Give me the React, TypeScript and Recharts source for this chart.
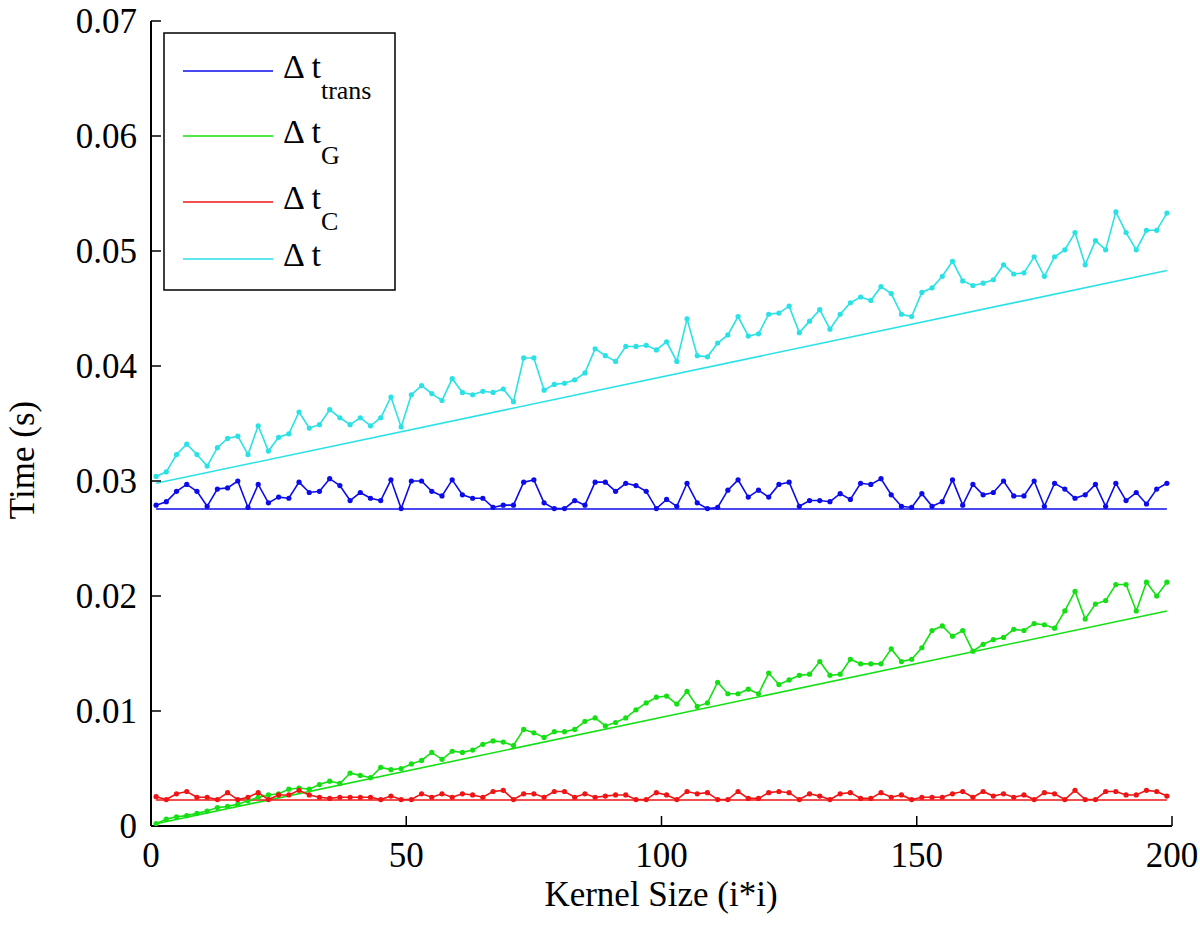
import { Legend, Line, LineChart, XAxis, YAxis } from "recharts";

// Kernel sizes sampled every 2 (1, 3, ..., 199) — 100 runs per series.
const KERNEL_SIZES = Array.from({ length: 100 }, (_, i) => 2 * i + 1);

const X_TICKS = [0, 50, 100, 150, 200];
const Y_TICKS = [0, 0.01, 0.02, 0.03, 0.04, 0.05, 0.06, 0.07];

const T_TRANS = [
  0.0279, 0.0282, 0.0291, 0.0297, 0.0291, 0.0278, 0.0293, 0.0294, 0.03, 0.0277,
  0.0297, 0.0281, 0.0286, 0.0285, 0.0299, 0.029, 0.0291, 0.0302, 0.0296, 0.0283,
  0.029, 0.0285, 0.0283, 0.0301, 0.0276, 0.03, 0.03, 0.0291, 0.0287, 0.0301,
  0.0288, 0.0285, 0.0285, 0.0277, 0.0279, 0.0279, 0.0299, 0.0301, 0.0281, 0.0276,
  0.0276, 0.0283, 0.0279, 0.0299, 0.0299, 0.0291, 0.0298, 0.0296, 0.0291, 0.0276,
  0.0284, 0.0278, 0.0298, 0.0281, 0.0276, 0.0277, 0.0292, 0.0301, 0.0286, 0.0292,
  0.0286, 0.0297, 0.0299, 0.0278, 0.0283, 0.0283, 0.0282, 0.0289, 0.0284, 0.0298,
  0.0297, 0.0302, 0.0288, 0.0278, 0.0277, 0.0289, 0.0278, 0.0282, 0.0301, 0.0279,
  0.0297, 0.0288, 0.029, 0.03, 0.0287, 0.0287, 0.03, 0.0278, 0.0298, 0.0293,
  0.0285, 0.0288, 0.0297, 0.0278, 0.0298, 0.0283, 0.029, 0.028, 0.0293, 0.0298,
];

const T_G = [
  0.0002, 0.0006, 0.0008, 0.0009, 0.0011, 0.0013, 0.0016, 0.0017, 0.0019, 0.0022,
  0.0025, 0.0027, 0.0028, 0.0032, 0.0033, 0.0032, 0.0036, 0.0039, 0.0037, 0.0046,
  0.0044, 0.0042, 0.0051, 0.0049, 0.005, 0.0054, 0.0057, 0.0064, 0.0058, 0.0065,
  0.0064, 0.0066, 0.0071, 0.0074, 0.0073, 0.007, 0.0084, 0.0081, 0.0077, 0.0082,
  0.0082, 0.0084, 0.0091, 0.0094, 0.0087, 0.009, 0.0094, 0.0101, 0.0107, 0.0112,
  0.0113, 0.0106, 0.0117, 0.0104, 0.0107, 0.0125, 0.0115, 0.0115, 0.0119, 0.0115,
  0.0133, 0.0123, 0.0127, 0.0131, 0.0132, 0.0143, 0.0131, 0.0132, 0.0145, 0.0141,
  0.0141, 0.0141, 0.0154, 0.0143, 0.0145, 0.0155, 0.017, 0.0174, 0.0165, 0.017,
  0.0152, 0.0158, 0.0162, 0.0164, 0.0171, 0.017, 0.0176, 0.0175, 0.0172, 0.0187,
  0.0204, 0.018, 0.0193, 0.0196, 0.021, 0.021, 0.0187, 0.0212, 0.02, 0.0212,
];

const T_C = [
  0.00255, 0.0023, 0.0028, 0.003, 0.0025, 0.0025, 0.0023, 0.0029, 0.0023, 0.0025,
  0.0029, 0.0023, 0.0027, 0.0027, 0.0031, 0.0027, 0.0025, 0.0024, 0.0025, 0.0025,
  0.0025, 0.0025, 0.0023, 0.0026, 0.0023, 0.0023, 0.0028, 0.0025, 0.0028, 0.0025,
  0.0028, 0.0027, 0.0025, 0.003, 0.0031, 0.0023, 0.0028, 0.0028, 0.0025, 0.003,
  0.003, 0.0025, 0.0028, 0.0025, 0.0026, 0.0027, 0.0027, 0.0023, 0.0023, 0.0029,
  0.0027, 0.0023, 0.003, 0.0028, 0.0029, 0.0023, 0.0023, 0.003, 0.0024, 0.0024,
  0.0029, 0.003, 0.0029, 0.0023, 0.0028, 0.0026, 0.0023, 0.0028, 0.0029, 0.0024,
  0.0024, 0.0029, 0.0025, 0.0027, 0.0023, 0.0025, 0.0025, 0.0025, 0.0028, 0.003,
  0.0025, 0.003, 0.0026, 0.0028, 0.0025, 0.0027, 0.0023, 0.0029, 0.0028, 0.0023,
  0.0031, 0.0023, 0.0023, 0.003, 0.003, 0.0027, 0.0027, 0.0031, 0.003, 0.0026,
];

const T_TOTAL = [
  0.0304, 0.0308, 0.0323, 0.0332, 0.0323, 0.0313, 0.0329, 0.0337, 0.0339, 0.0323,
  0.0348, 0.0326, 0.0338, 0.0341, 0.036, 0.0346, 0.0349, 0.0362, 0.0355, 0.0349,
  0.0355, 0.0348, 0.0355, 0.0373, 0.0347, 0.0375, 0.0383, 0.0376, 0.037, 0.0389,
  0.0377, 0.0375, 0.0378, 0.0377, 0.038, 0.0369, 0.0407, 0.0407, 0.0379, 0.0384,
  0.0385, 0.0388, 0.0394, 0.0415, 0.0409, 0.0404, 0.0417, 0.0417, 0.0418, 0.0414,
  0.0421, 0.0404, 0.0441, 0.0409, 0.0408, 0.042, 0.0427, 0.0443, 0.0426, 0.0428,
  0.0445, 0.0446, 0.0452, 0.0429, 0.0439, 0.0449, 0.0432, 0.0445, 0.0455, 0.046,
  0.0457, 0.0469, 0.0463, 0.0445, 0.0443, 0.0464, 0.0468, 0.0478, 0.0491, 0.0474,
  0.047, 0.0472, 0.0475, 0.0488, 0.048, 0.0481, 0.0495, 0.0478, 0.0495, 0.0501,
  0.0516, 0.0488, 0.0509, 0.0501, 0.0534, 0.0516, 0.0501, 0.0518, 0.0518, 0.0533,
];

// Straight model lines: value at the first and the last kernel size.
const FIT_X = [1, 199];
const FIT_TRANS = [0.02757, 0.02757];
const FIT_G = [0.0002, 0.0187];
const FIT_C = [0.00226, 0.00226];
const FIT_TOTAL = [0.0298, 0.0483];

const SERIES = [
  { key: "trans", sub: "trans", color: "#0c0ceb", values: T_TRANS, fit: FIT_TRANS },
  { key: "g", sub: "G", color: "#14e014", values: T_G, fit: FIT_G },
  { key: "c", sub: "C", color: "#f01414", values: T_C, fit: FIT_C },
  { key: "total", sub: "", color: "#2ae2e6", values: T_TOTAL, fit: FIT_TOTAL },
];

const pontos = (xs: number[], ys: number[]) => ys.map((y, i) => ({ x: xs[i], y }));

// Times-like face, as in the original MATLAB export.
const FONTE = "Liberation Serif, Times New Roman, Times, serif";
const TAM = 35;
const TICK = { fill: "#000", fontSize: TAM, fontFamily: FONTE, style: { fontFamily: FONTE } };
const EIXO = { stroke: "#000", strokeWidth: 2 };
const TRACO = { stroke: "#000", strokeWidth: 1.5 };

// Rows of the boxed legend (svg coordinates inside the box).
const LINHAS_Y = [39, 104, 170, 227];

function CaixaLegenda() {
  return (
    <svg width={233} height={259} style={{ display: "block", fontFamily: FONTE }}>
      <rect x={1} y={1} width={231} height={257} fill="#fff" stroke="#000" strokeWidth={1.5} />
      {SERIES.map((s, i) => {
        const y = LINHAS_Y[i];
        return (
          <g key={s.key}>
            <line x1={20} x2={110} y1={y} y2={y} stroke={s.color} strokeWidth={1.5} />
            <text x={120} y={y + 7} fontSize={34} style={{ fontFamily: FONTE }} fill="#000">
              {"\u0394 t"}
              {s.sub ? (
                <tspan dy={21} fontSize={26}>
                  {s.sub}
                </tspan>
              ) : null}
            </text>
          </g>
        );
      })}
    </svg>
  );
}

const fmtY = (v: number) => (v === 0 ? "0" : v.toFixed(2));

export default function App() {
  return (
    <div
      style={{
        position: "absolute",
        left: 0,
        top: 0,
        width: 1200,
        height: 935,
        background: "#fff",
        fontFamily: FONTE,
      }}
    >
      <LineChart
        width={1200}
        height={935}
        margin={{ top: 21, right: 28, bottom: 0, left: 0 }}
        style={{ fontFamily: FONTE }}
      >
        <XAxis
          dataKey="x"
          type="number"
          domain={[0, 200]}
          ticks={X_TICKS}
          height={109}
          axisLine={EIXO}
          tickLine={TRACO}
          tickSize={-10}
          tickMargin={26}
          tick={TICK}
          interval={0}
          allowDataOverflow
          label={{
            content: () => (
              <text
                x={661}
                y={906}
                textAnchor="middle"
                fontSize={TAM}
                style={{ fontFamily: FONTE }}
                fill="#000"
              >
                Kernel Size (i*i)
              </text>
            ),
          }}
        />
        <XAxis
          xAxisId="top"
          orientation="top"
          dataKey="x"
          type="number"
          domain={[0, 200]}
          ticks={X_TICKS}
          height={0}
          axisLine={EIXO}
          tickLine={TRACO}
          tickSize={-10}
          tickFormatter={() => ""}
          interval={0}
          allowDataOverflow
        />
        <YAxis
          type="number"
          domain={[0, 0.07]}
          ticks={Y_TICKS}
          width={151}
          axisLine={EIXO}
          tickLine={TRACO}
          tickSize={-10}
          tickMargin={24}
          tick={TICK}
          tickFormatter={fmtY}
          interval={0}
          allowDataOverflow
          label={{
            content: () => (
              <text
                x={22}
                y={460}
                transform="rotate(-90 22 460)"
                textAnchor="middle"
                dominantBaseline="central"
                fontSize={TAM}
                style={{ fontFamily: FONTE }}
                fill="#000"
              >
                Time (s)
              </text>
            ),
          }}
        />
        <YAxis
          yAxisId="right"
          orientation="right"
          type="number"
          domain={[0, 0.07]}
          ticks={Y_TICKS}
          width={0}
          axisLine={EIXO}
          tickLine={TRACO}
          tickSize={-10}
          tickFormatter={() => ""}
          interval={0}
          allowDataOverflow
        />
        {SERIES.map((s) => (
          <Line
            key={s.key + "-fit"}
            data={pontos(FIT_X, s.fit)}
            dataKey="y"
            type="linear"
            stroke={s.color}
            strokeWidth={1.6}
            dot={false}
            activeDot={false}
            isAnimationActive={false}
          />
        ))}
        {SERIES.map((s) => (
          <Line
            key={s.key}
            data={pontos(KERNEL_SIZES, s.values)}
            dataKey="y"
            type="linear"
            stroke={s.color}
            strokeWidth={1.6}
            dot={{ r: 2.6, fill: s.color, stroke: s.color, strokeWidth: 0 }}
            activeDot={false}
            isAnimationActive={false}
          />
        ))}
        <Legend
          layout="horizontal"
          verticalAlign="middle"
          align="center"
          wrapperStyle={{ left: 163, top: 32, width: 233, height: 259 }}
          content={() => <CaixaLegenda />}
        />
      </LineChart>
    </div>
  );
}
